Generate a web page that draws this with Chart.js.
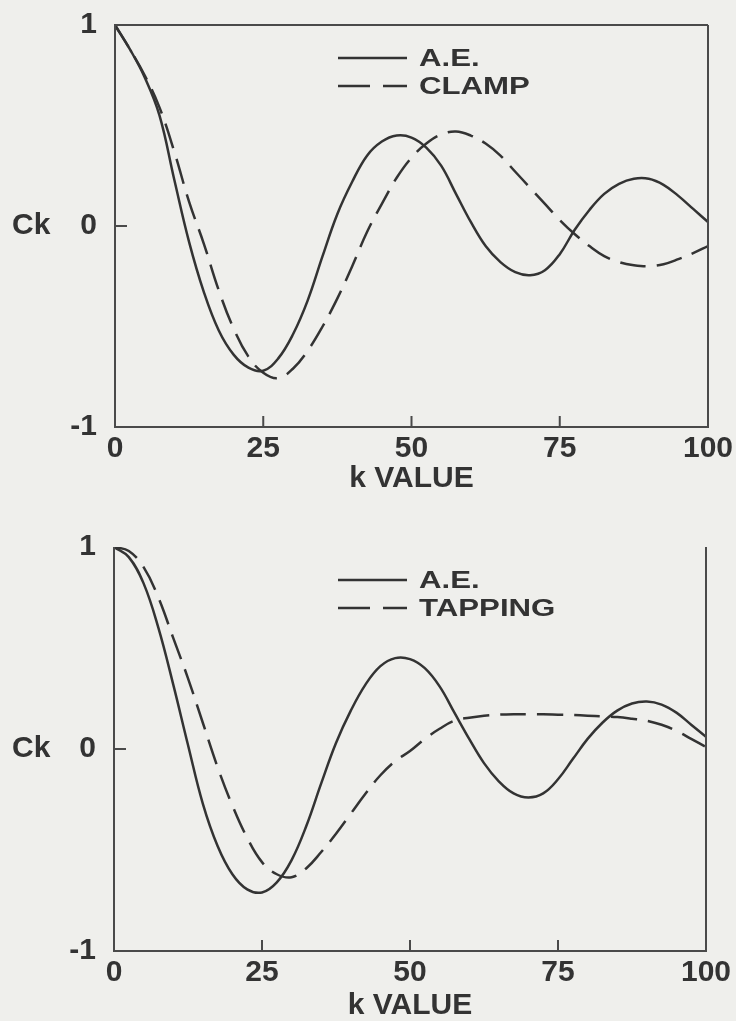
<!DOCTYPE html>
<html>
<head>
<meta charset="utf-8">
<script src="https://cdn.jsdelivr.net/npm/chart.js@4.4.0/dist/chart.umd.min.js"></script>
<style>
  html, body { margin: 0; padding: 0; background: #efefec; }
  .panel { position: absolute; left: 0; width: 736px; }
  #top { top: 0; height: 510px; }
  #bottom { top: 510px; height: 511px; }
</style>
</head>
<body>
<div class="panel" id="top"><canvas id="chartTop"></canvas></div>
<div class="panel" id="bottom"><canvas id="chartBottom"></canvas></div>
<script>
const kValues = [0, 2.5, 5, 7.5, 10, 12.5, 15, 17.5, 20, 22.5, 25, 27.5, 30, 32.5, 35, 37.5, 40,
    42.5, 45, 47.5, 50, 52.5, 55, 57.5, 60, 62.5, 65, 67.5, 70, 72.5, 75, 77.5, 80, 82.5, 85,
    87.5, 90, 92.5, 95, 97.5, 100];

const topAE = [1.00, 0.88, 0.74, 0.55, 0.23, -0.08, -0.33, -0.52, -0.64, -0.705, -0.72, -0.66,
    -0.54, -0.37, -0.15, 0.06, 0.22, 0.35, 0.42, 0.45, 0.44, 0.39, 0.30, 0.16, 0.02, -0.10, -0.18,
    -0.23, -0.245, -0.22, -0.14, -0.02, 0.08, 0.16, 0.21, 0.235, 0.235, 0.205, 0.15, 0.085, 0.02];
const topClamp = [1.00, 0.88, 0.75, 0.59, 0.37, 0.12, -0.09, -0.32, -0.51, -0.65, -0.73, -0.757,
    -0.71, -0.62, -0.50, -0.36, -0.20, -0.03, 0.11, 0.24, 0.34, 0.41, 0.455, 0.47, 0.45, 0.41, 0.35,
    0.27, 0.19, 0.11, 0.03, -0.04, -0.10, -0.15, -0.18, -0.195, -0.20, -0.19, -0.165, -0.135, -0.10];

const bottomAE = [1.00, 0.95, 0.82, 0.60, 0.32, 0.02, -0.27, -0.48, -0.62, -0.695, -0.71, -0.66,
    -0.55, -0.38, -0.17, 0.03, 0.19, 0.32, 0.41, 0.45, 0.445, 0.40, 0.31, 0.18, 0.05, -0.07, -0.16,
    -0.22, -0.24, -0.22, -0.15, -0.05, 0.05, 0.13, 0.19, 0.225, 0.235, 0.22, 0.18, 0.12, 0.06];
const bottomTapping = [1.00, 0.98, 0.90, 0.75, 0.55, 0.35, 0.13, -0.09, -0.28, -0.44, -0.56, -0.62,
    -0.635, -0.59, -0.51, -0.42, -0.32, -0.22, -0.13, -0.06, -0.01, 0.05, 0.10, 0.14, 0.155, 0.165,
    0.17, 0.172, 0.172, 0.172, 0.17, 0.168, 0.165, 0.162, 0.158, 0.15, 0.14, 0.12, 0.09, 0.05, 0.01];

const innerTicksX = [25, 50, 75];
const innerTicksY = [0];

const inkColor = '#333333';
const axisColor = '#4a4a4a';
const fontFamily = '"Liberation Sans", Arial, sans-serif';

Chart.defaults.font.family = fontFamily;
Chart.defaults.font.weight = 'bold';
Chart.defaults.color = inkColor;

// box, inward ticks, the horizontal "Ck" label and the legend
const framePlugin = {
    id: 'frame',
    afterDatasetsDraw(chart, args, opts) {
        const { ctx, chartArea: a, scales: { x, y } } = chart;
        ctx.save();
        ctx.strokeStyle = axisColor;
        ctx.lineWidth = 2;
        ctx.beginPath();
        ctx.moveTo(a.right, a.top);
        ctx.lineTo(a.right, a.bottom);
        ctx.lineTo(a.left, a.bottom);
        ctx.lineTo(a.left, a.top);
        if (opts.topBorder) ctx.lineTo(a.right, a.top);
        innerTicksX.forEach(v => {
            const px = x.getPixelForValue(v);
            ctx.moveTo(px, a.bottom);
            ctx.lineTo(px, a.bottom - 11);
        });
        innerTicksY.forEach(v => {
            const py = y.getPixelForValue(v);
            ctx.moveTo(a.left, py);
            ctx.lineTo(a.left + 12, py);
        });
        ctx.stroke();

        ctx.fillStyle = inkColor;
        ctx.font = 'bold 30px ' + fontFamily;
        ctx.textBaseline = 'middle';
        ctx.textAlign = 'left';
        ctx.fillText('Ck', 12, y.getPixelForValue(0));

        // legend
        chart.data.datasets.forEach((ds, i) => {
            const ly = opts.legendY + i * 28;
            ctx.strokeStyle = ds.borderColor;
            ctx.lineWidth = 2.5;
            ctx.setLineDash(ds.borderDash.length ? [32, 13] : []);
            ctx.beginPath();
            ctx.moveTo(338, ly);
            ctx.lineTo(407, ly);
            ctx.stroke();
            ctx.setLineDash([]);
            ctx.save();
            ctx.translate(419, ly + 1);
            ctx.scale(1.3, 1);
            ctx.font = 'bold 24px ' + fontFamily;
            ctx.fillText(ds.label, 0, 0);
            ctx.restore();
        });
        ctx.restore();
    }
};

function makeChart(id, labelB, seriesA, seriesB, geom) {
    const toPoints = arr => arr.map((v, i) => ({ x: kValues[i], y: v }));
    return new Chart(document.getElementById(id), {
        type: 'line',
        data: {
            datasets: [
                {
                    label: 'A.E.',
                    data: toPoints(seriesA),
                    borderColor: inkColor,
                    borderWidth: 2.5,
                    borderDash: [],
                    pointRadius: 0,
                    tension: 0.4,
                    fill: false,
                },
                {
                    label: labelB,
                    data: toPoints(seriesB),
                    borderColor: inkColor,
                    borderWidth: 2.5,
                    borderDash: [26, 11],
                    pointRadius: 0,
                    tension: 0.4,
                    fill: false,
                }
            ]
        },
        options: {
            responsive: true,
            maintainAspectRatio: false,
            animation: false,
            events: [],
            layout: {
                autoPadding: false,
                padding: { left: 0, right: geom.right, top: geom.top, bottom: 0 }
            },
            plugins: {
                legend: { display: false },
                tooltip: { enabled: false },
                frame: { topBorder: geom.topBorder, legendY: geom.legendY },
            },
            scales: {
                x: {
                    type: 'linear',
                    min: 0,
                    max: 100,
                    afterFit: s => { s.height = geom.xHeight; s.paddingLeft = 0; s.paddingRight = 0; },
                    grid: { display: false, drawTicks: false },
                    border: { display: false },
                    ticks: { stepSize: 25, padding: 4, font: { size: 30, weight: 'bold' }, color: inkColor },
                    title: {
                        display: true,
                        text: 'k VALUE',
                        font: { size: 30, weight: 'bold', lineHeight: 1 },
                        color: inkColor,
                        padding: { top: 0, bottom: geom.titlePad },
                    },
                },
                y: {
                    type: 'linear',
                    min: -1,
                    max: 1,
                    afterFit: s => { s.width = geom.left; s.paddingTop = 0; s.paddingBottom = 0; },
                    grid: { display: false, drawTicks: false },
                    border: { display: false },
                    ticks: { stepSize: 1, padding: 18, font: { size: 30, weight: 'bold' }, color: inkColor },
                }
            }
        },
        plugins: [framePlugin]
    });
}

makeChart('chartTop', 'CLAMP', topAE, topClamp,
    { left: 115, right: 28, top: 25, xHeight: 83, titlePad: 16, topBorder: true, legendY: 58 });
makeChart('chartBottom', 'TAPPING', bottomAE, bottomTapping,
    { left: 114, right: 30, top: 37, xHeight: 70, titlePad: 0, topBorder: false, legendY: 70 });
</script>
</body>
</html>
